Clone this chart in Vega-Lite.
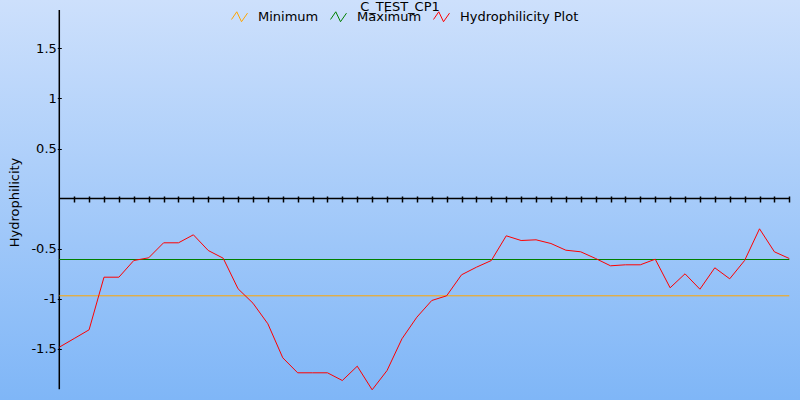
{
  "$schema": "https://vega.github.io/schema/vega-lite/v6.json",
  "width": 800,
  "height": 400,
  "autosize": {"type": "none"},
  "padding": 0,
  "background": "#a6cbfa",
  "title": {
    "text": "C_TEST_CP1",
    "anchor": "middle",
    "frame": "group",
    "font": "DejaVu Sans",
    "fontSize": 13,
    "fontWeight": "normal",
    "color": "black",
    "baseline": "alphabetic",
    "offset": 0,
    "dy": 24
  },
  "config": {
    "view": {
      "stroke": null,
      "fill": {
        "gradient": "linear",
        "x1": 0, "y1": 0, "x2": 0, "y2": 1,
        "stops": [
          {"offset": 0, "color": "#cde0fc"},
          {"offset": 1, "color": "#7fb6f7"}
        ]
      }
    }
  },
  "layer": [
    {
      "data": {
        "values": [
          {"ax": 0, "ax2": 49, "ay": 0, "ay2": 0},
          {"ax": 0, "ax2": 0, "ay": -1.908, "ay2": 1.885}
        ]
      },
      "mark": {"type": "rule", "color": "black", "strokeWidth": 1.5},
      "encoding": {
        "x": {"field": "ax", "type": "quantitative"},
        "x2": {"field": "ax2"},
        "y": {"field": "ay", "type": "quantitative"},
        "y2": {"field": "ay2"}
      }
    },
    {
      "data": {
        "values": [
          {"pos": 0, "value": -0.973, "series": "Minimum"},
          {"pos": 49, "value": -0.973, "series": "Minimum"},
          {"pos": 0, "value": -0.61, "series": "Maximum"},
          {"pos": 49, "value": -0.61, "series": "Maximum"},
          {"pos": 0, "value": -1.487, "series": "Hydrophilicity Plot"},
          {"pos": 1, "value": -1.4, "series": "Hydrophilicity Plot"},
          {"pos": 2, "value": -1.313, "series": "Hydrophilicity Plot"},
          {"pos": 3, "value": -0.787, "series": "Hydrophilicity Plot"},
          {"pos": 4, "value": -0.787, "series": "Hydrophilicity Plot"},
          {"pos": 5, "value": -0.62, "series": "Hydrophilicity Plot"},
          {"pos": 6, "value": -0.593, "series": "Hydrophilicity Plot"},
          {"pos": 7, "value": -0.443, "series": "Hydrophilicity Plot"},
          {"pos": 8, "value": -0.443, "series": "Hydrophilicity Plot"},
          {"pos": 9, "value": -0.363, "series": "Hydrophilicity Plot"},
          {"pos": 10, "value": -0.52, "series": "Hydrophilicity Plot"},
          {"pos": 11, "value": -0.597, "series": "Hydrophilicity Plot"},
          {"pos": 12, "value": -0.903, "series": "Hydrophilicity Plot"},
          {"pos": 13, "value": -1.047, "series": "Hydrophilicity Plot"},
          {"pos": 14, "value": -1.253, "series": "Hydrophilicity Plot"},
          {"pos": 15, "value": -1.593, "series": "Hydrophilicity Plot"},
          {"pos": 16, "value": -1.743, "series": "Hydrophilicity Plot"},
          {"pos": 17, "value": -1.743, "series": "Hydrophilicity Plot"},
          {"pos": 18, "value": -1.743, "series": "Hydrophilicity Plot"},
          {"pos": 19, "value": -1.82, "series": "Hydrophilicity Plot"},
          {"pos": 20, "value": -1.677, "series": "Hydrophilicity Plot"},
          {"pos": 21, "value": -1.913, "series": "Hydrophilicity Plot"},
          {"pos": 22, "value": -1.72, "series": "Hydrophilicity Plot"},
          {"pos": 23, "value": -1.403, "series": "Hydrophilicity Plot"},
          {"pos": 24, "value": -1.187, "series": "Hydrophilicity Plot"},
          {"pos": 25, "value": -1.02, "series": "Hydrophilicity Plot"},
          {"pos": 26, "value": -0.973, "series": "Hydrophilicity Plot"},
          {"pos": 27, "value": -0.763, "series": "Hydrophilicity Plot"},
          {"pos": 28, "value": -0.687, "series": "Hydrophilicity Plot"},
          {"pos": 29, "value": -0.62, "series": "Hydrophilicity Plot"},
          {"pos": 30, "value": -0.373, "series": "Hydrophilicity Plot"},
          {"pos": 31, "value": -0.42, "series": "Hydrophilicity Plot"},
          {"pos": 32, "value": -0.413, "series": "Hydrophilicity Plot"},
          {"pos": 33, "value": -0.45, "series": "Hydrophilicity Plot"},
          {"pos": 34, "value": -0.517, "series": "Hydrophilicity Plot"},
          {"pos": 35, "value": -0.533, "series": "Hydrophilicity Plot"},
          {"pos": 36, "value": -0.6, "series": "Hydrophilicity Plot"},
          {"pos": 37, "value": -0.673, "series": "Hydrophilicity Plot"},
          {"pos": 38, "value": -0.663, "series": "Hydrophilicity Plot"},
          {"pos": 39, "value": -0.663, "series": "Hydrophilicity Plot"},
          {"pos": 40, "value": -0.607, "series": "Hydrophilicity Plot"},
          {"pos": 41, "value": -0.893, "series": "Hydrophilicity Plot"},
          {"pos": 42, "value": -0.753, "series": "Hydrophilicity Plot"},
          {"pos": 43, "value": -0.907, "series": "Hydrophilicity Plot"},
          {"pos": 44, "value": -0.693, "series": "Hydrophilicity Plot"},
          {"pos": 45, "value": -0.803, "series": "Hydrophilicity Plot"},
          {"pos": 46, "value": -0.62, "series": "Hydrophilicity Plot"},
          {"pos": 47, "value": -0.303, "series": "Hydrophilicity Plot"},
          {"pos": 48, "value": -0.533, "series": "Hydrophilicity Plot"},
          {"pos": 49, "value": -0.6, "series": "Hydrophilicity Plot"}
        ]
      },
      "mark": {"type": "line", "strokeWidth": 1},
      "encoding": {
        "x": {
          "field": "pos",
          "type": "quantitative",
          "scale": {"domain": [-3.98, 49.718], "nice": false, "zero": false},
          "axis": {
            "orient": "bottom",
            "offset": -204,
            "values": [1,2,3,4,5,6,7,8,9,10,11,12,13,14,15,16,17,18,19,20,21,22,23,24,25,26,27,28,29,30,31,32,33,34,35,36,37,38,39,40,41,42,43,44,45,46,47,48,49],
            "tickCount": 60,
            "labels": false,
            "domain": false,
            "grid": false,
            "title": null,
            "tickSize": 6,
            "tickWidth": 1.5,
            "tickColor": "black"
          }
        },
        "y": {
          "field": "value",
          "type": "quantitative",
          "scale": {"domain": [-2.015, 1.985], "nice": false, "zero": false},
          "axis": {
            "orient": "left",
            "offset": -61.3,
            "values": [-1.5, -1, -0.5, 0.5, 1, 1.5],
            "tickCount": 10,
            "labelExpr": "datum.value + ''",
            "labelFont": "DejaVu Sans",
            "labelFontSize": 13,
            "labelColor": "black",
            "labelPadding": 1,
            "domain": false,
            "grid": false,
            "tickSize": 4,
            "tickWidth": 1,
            "tickColor": "black",
            "title": "Hydrophilicity",
            "titleFont": "DejaVu Sans",
            "titleFontSize": 13,
            "titleFontWeight": "normal",
            "titleColor": "black",
            "titleAngle": -90,
            "titleAlign": "center",
            "titleBaseline": "bottom",
            "titleX": -39.6,
            "titleY": 202
          }
        },
        "color": {
          "field": "series",
          "type": "nominal",
          "sort": ["Minimum", "Maximum", "Hydrophilicity Plot"],
          "scale": {
            "domain": ["Minimum", "Maximum", "Hydrophilicity Plot"],
            "range": ["#ffa500", "#008000", "#ff0000"]
          },
          "legend": {
            "title": null,
            "orient": "none",
            "direction": "horizontal",
            "legendX": 231,
            "legendY": 8,
            "padding": 0,
            "symbolType": "M-1,0.34L-0.34,-0.62L0.25,0.62L1,-0.45",
            "symbolSize": 256,
            "symbolStrokeWidth": 1,
            "symbolFillColor": "transparent",
            "labelFont": "DejaVu Sans",
            "labelFontSize": 13,
            "labelColor": "black",
            "labelOffset": 10,
            "columnPadding": 9
          }
        }
      }
    }
  ]
}
